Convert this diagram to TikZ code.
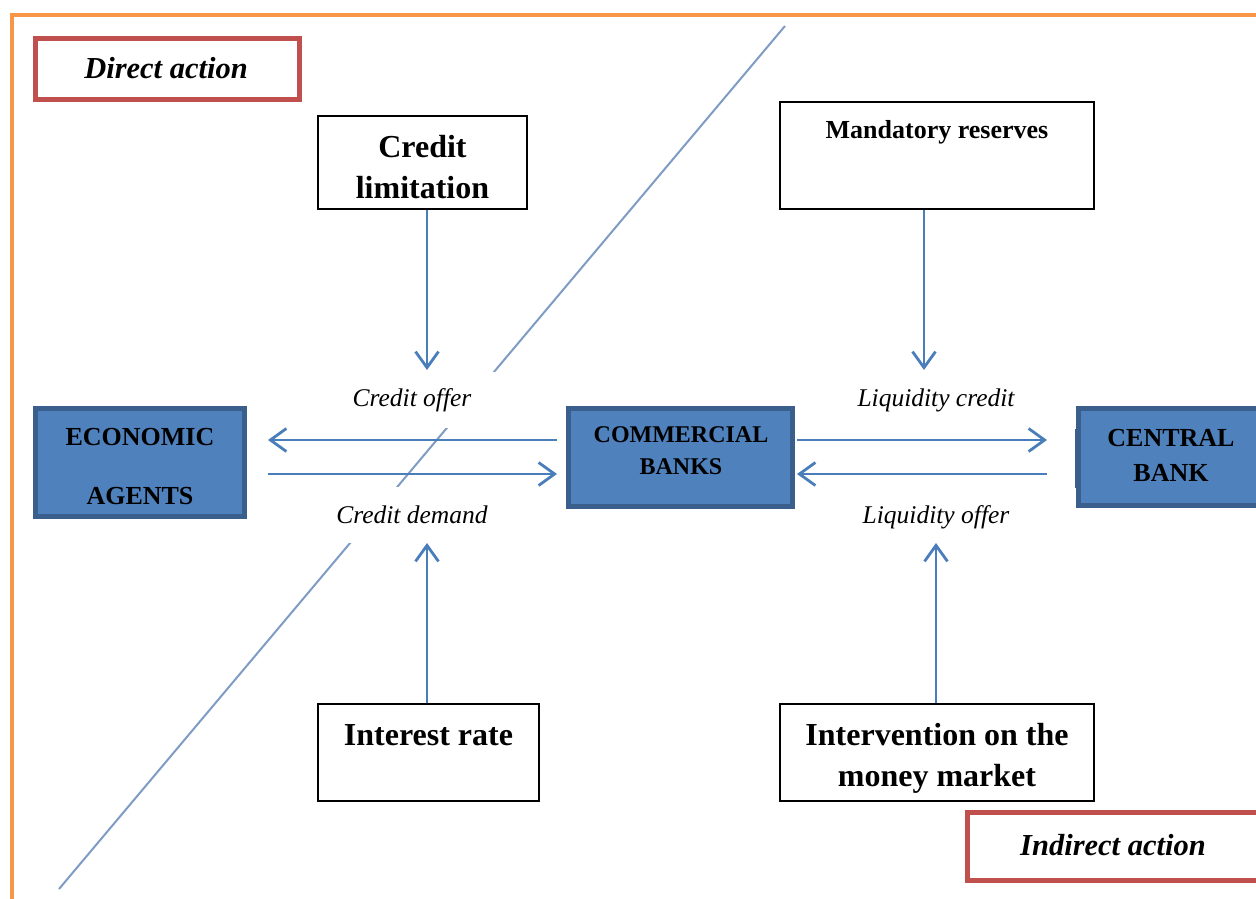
\documentclass[tikz,border=0pt]{standalone}
\usepackage{fontspec}
\setmainfont{Liberation Serif}
\usetikzlibrary{arrows.meta}
\definecolor{orangeb}{HTML}{F79646}
\definecolor{redb}{HTML}{C0504D}
\definecolor{bluefill}{HTML}{4F81BD}
\definecolor{blueedge}{HTML}{3A5F8C}
\definecolor{arrowc}{HTML}{4A7EBB}
\definecolor{diagc}{HTML}{7F9CC4}
\begin{document}
\begin{tikzpicture}[x=1pt,y=-1pt,
  whitebox/.style={draw=black, line width=1.1pt, fill=white, inner sep=0pt, align=center},
  bluebox/.style={draw=blueedge, line width=5pt, fill=bluefill, inner sep=0pt},
  actionbox/.style={draw=redb, line width=5pt, fill=white, inner sep=0pt},
  bigbold/.style={font=\fontsize{32}{41}\selectfont\bfseries, align=center, inner sep=0pt},
  midbold/.style={font=\fontsize{26}{32}\selectfont\bfseries, align=center, inner sep=0pt},
  capbold/.style={font=\fontsize{26}{35}\selectfont\bfseries, align=center, inner sep=0pt},
  actiontext/.style={font=\fontsize{30.5}{36}\selectfont\bfseries\itshape, inner sep=0pt},
  flowlabel/.style={font=\fontsize{25.5}{30}\selectfont\itshape, inner sep=0pt},
  maskedlabel/.style={flowlabel, fill=white, minimum width=180pt, minimum height=56pt},
  arr/.style={draw=arrowc, line width=2.8pt, -{Straight Barb[length=16pt,width=23pt]}},
  diag/.style={draw=diagc, line width=2pt}
]
\useasboundingbox (0,0) rectangle (1256,898);
\fill[white] (0,0) rectangle (1256,898);

% orange frame
\coordinate (frTR) at (1262,15);
\coordinate (frTL) at (12,15);
\coordinate (frBL) at (12,904);
\draw[orangeb, line width=4pt] (frTR) -- (frTL) -- (frBL);

% diagonal separator
\coordinate (dtop) at (785,26);
\coordinate (dbot) at (59,889);
\draw[diag] (dtop) -- (dbot);

% action boxes
\node[actionbox, minimum width=264pt, minimum height=61pt] (direct) at (167.5,69) {};
\node[actiontext] (directtxt) at (166,68) {Direct action};
\node[actionbox, minimum width=294pt, minimum height=68pt] (indirect) at (1114,846.5) {};
\node[actiontext] (indirecttxt) at (1113,845) {Indirect action};

% instrument boxes
\node[whitebox, minimum width=209pt, minimum height=93pt] (cl) at (422.5,162.5) {};
\node[bigbold] (cltxt) at (422.5,167.5) {Credit\\limitation};
\node[whitebox, minimum width=314pt, minimum height=107pt] (mr) at (937,155.5) {};
\node[midbold] (mrtxt) at (937,132) {Mandatory reserves};
\node[whitebox, minimum width=221pt, minimum height=97pt] (ir) at (428.5,752.5) {};
\node[bigbold] (irtxt) at (428.5,735) {Interest rate};
\node[whitebox, minimum width=314pt, minimum height=97pt] (im) at (937,752.5) {};
\node[bigbold] (imtxt) at (937,758.5) {Intervention on the\\money market};

% actor boxes
\node[bluebox, minimum width=209pt, minimum height=108pt] (ea) at (140,462.5) {};
\node[capbold] (eatxt1) at (140,437) {ECONOMIC};
\node[capbold] (eatxt2) at (140,496) {AGENTS};
\node[bluebox, minimum width=224pt, minimum height=98pt] (cb) at (680.5,457.5) {};
\node[font=\fontsize{24}{32}\selectfont\bfseries, align=center, inner sep=0pt] (cbtxt) at (681,451) {COMMERCIAL\\BANKS};
\coordinate (cenA) at (1076,429);
\coordinate (cenB) at (1076,488);
\draw[blueedge, line width=3pt] (cenA) -- (cenB);
\node[bluebox, minimum width=184pt, minimum height=97pt] (cen) at (1170,457) {};
\node[capbold] (centxt) at (1171,455) {CENTRAL\\BANK};

% flow labels
\node[maskedlabel] (offer) at (412,400) {Credit offer};
\node[maskedlabel] (demand) at (412,515) {Credit demand};
\node[flowlabel] (lcredit) at (936,400) {Liquidity credit};
\node[flowlabel] (loffer) at (936,517) {Liquidity offer};

% arrow end points
\coordinate (clTip) at (427,370);
\coordinate (mrTip) at (924,370);
\coordinate (irTip) at (427,543);
\coordinate (imTip) at (936,543);
\coordinate (coStart) at (557,440);
\coordinate (coEnd) at (268,440);
\coordinate (cdStart) at (268,474);
\coordinate (cdEnd) at (557,474);
\coordinate (lcStart) at (797,440);
\coordinate (lcEnd) at (1047,440);
\coordinate (loStart) at (1047,474);
\coordinate (loEnd) at (797,474);

% arrows
\draw[arr] (cl.south -| clTip) -- (clTip);
\draw[arr] (mr.south -| mrTip) -- (mrTip);
\draw[arr] (ir.north -| irTip) -- (irTip);
\draw[arr] (im.north -| imTip) -- (imTip);
\draw[arr] (coStart) -- (coEnd);
\draw[arr] (cdStart) -- (cdEnd);
\draw[arr] (lcStart) -- (lcEnd);
\draw[arr] (loStart) -- (loEnd);
\end{tikzpicture}
\end{document}
